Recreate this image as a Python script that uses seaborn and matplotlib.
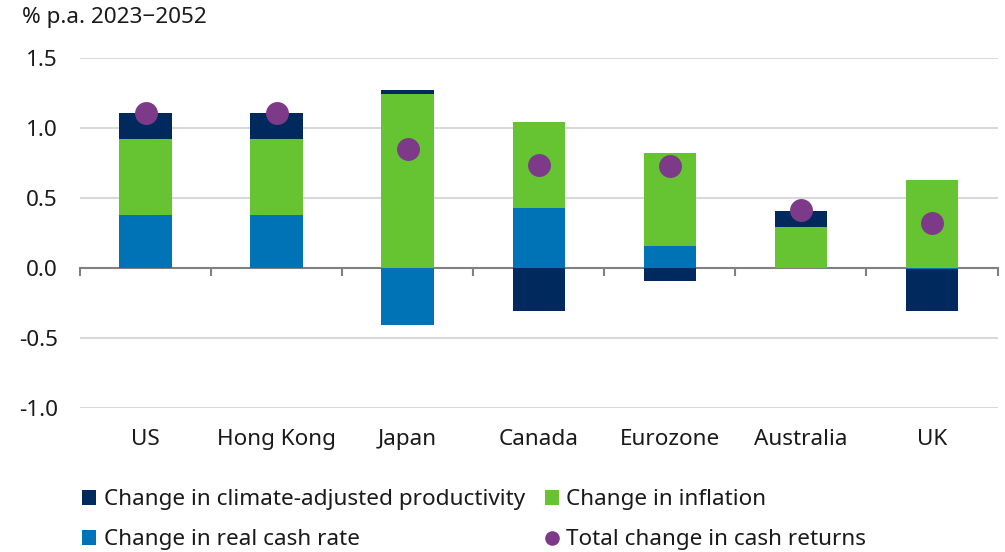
import matplotlib
matplotlib.use("Agg")
import matplotlib.pyplot as plt
import numpy as np
import pandas as pd
import seaborn as sns
from matplotlib.patches import Patch
from matplotlib.lines import Line2D

# Contributions to the change in cash returns, % p.a. 2023-2052
countries = ["US", "Hong Kong", "Japan", "Canada", "Eurozone", "Australia", "UK"]
productivity = [0.19, 0.19, 0.03, -0.31, -0.09, 0.12, -0.30]
inflation = [0.54, 0.54, 1.24, 0.61, 0.66, 0.29, 0.63]
real_cash = [0.38, 0.38, -0.41, 0.43, 0.16, 0.00, -0.01]
total = [1.11, 1.11, 0.85, 0.735, 0.73, 0.415, 0.32]

yticks = [-1.0, -0.5, 0.0, 0.5, 1.0, 1.5]
title = "% p.a. 2023\u22122052"
labels = ["Change in climate-adjusted productivity", "Change in real cash rate",
          "Change in inflation", "Total change in cash returns"]

NAVY = "#002A5E"
GREEN = "#66C432"
BLUE = "#0073B6"
PURPLE = "#7D3A88"
FS = 16.2

sns.set_theme(style="white")
plt.rcParams["font.family"] = ["Noto Sans", "DejaVu Sans"]

fig = plt.figure(figsize=(10.05, 5.52), dpi=100)
ax = fig.add_axes([80 / 1005, 1 - 408 / 552, (997.5 - 80) / 1005, (408 - 58) / 552])

# Stack layers: positive parts upward (real cash, inflation, productivity),
# negative parts downward (real cash, then productivity).
prod = np.array(productivity)
infl = np.array(inflation)
real = np.array(real_cash)

def pos(a):
    return np.clip(a, 0, None)

def neg(a):
    return np.clip(a, None, 0)

layers = [
    (pos(real) + pos(infl) + pos(prod), NAVY),
    (pos(real) + pos(infl), GREEN),
    (pos(real), BLUE),
    (neg(real) + neg(prod) + neg(infl), NAVY),
    (neg(real), BLUE),
]

for heights, color in layers:
    df = pd.DataFrame({"country": countries, "value": heights})
    sns.barplot(data=df, x="country", y="value", order=countries, color=color,
                width=0.4, linewidth=0, saturation=1, ax=ax, zorder=3)

dots = pd.DataFrame({"country": countries, "total": total})
sns.stripplot(data=dots, x="country", y="total", order=countries, jitter=False,
              color=PURPLE, size=16.5, linewidth=0, ax=ax, zorder=5)

ax.set_xlim(-0.5, len(countries) - 0.5)
ax.set_ylim(-1.0, 1.5)
ax.set_yticks(yticks)
ax.set_yticklabels([f"{v:.1f}" for v in yticks])
ax.set_xlabel("")
ax.set_ylabel("")

for v in yticks:
    if v != 0:
        ax.axhline(v, color="#d9d9d9", lw=1.5, zorder=1)

for s in ax.spines.values():
    s.set_visible(False)

ax.tick_params(axis="y", length=0, pad=16, labelsize=FS, labelcolor="#1a1a1a")
ax.tick_params(axis="x", length=0, pad=15, labelsize=FS, labelcolor="#1a1a1a")

# Zero axis with category-boundary ticks
zero_ax = ax.secondary_xaxis(0, transform=ax.transData)
zero_ax.set_xticks(np.arange(-0.5, len(countries), 1.0))
zero_ax.set_xticklabels([])
zero_ax.tick_params(axis="x", direction="out", length=6, width=1.5, color="#808080")
zero_ax.spines["bottom"].set_color("#808080")
zero_ax.spines["bottom"].set_linewidth(1.5)
for k in ("top", "left", "right"):
    zero_ax.spines[k].set_visible(False)

fig.text(22 / 1005, 1 - 18 / 552, title, fontsize=FS, va="center", ha="left",
         color="#1a1a1a")

handles = [
    Patch(facecolor=NAVY, edgecolor="none"),
    Patch(facecolor=BLUE, edgecolor="none"),
    Patch(facecolor=GREEN, edgecolor="none"),
    Line2D([], [], marker="o", linestyle="none", markersize=10.5,
           markerfacecolor=PURPLE, markeredgewidth=0),
]
fig.legend(handles, labels, ncol=2, loc="upper left",
           bbox_to_anchor=(62 / 1005, 1 - 469 / 552), frameon=False,
           fontsize=FS, handlelength=0.63, handleheight=0.63,
           handletextpad=0.32, columnspacing=0.9, labelspacing=0.84,
           labelcolor="#1a1a1a")

fig.savefig("out.png", dpi=100)
